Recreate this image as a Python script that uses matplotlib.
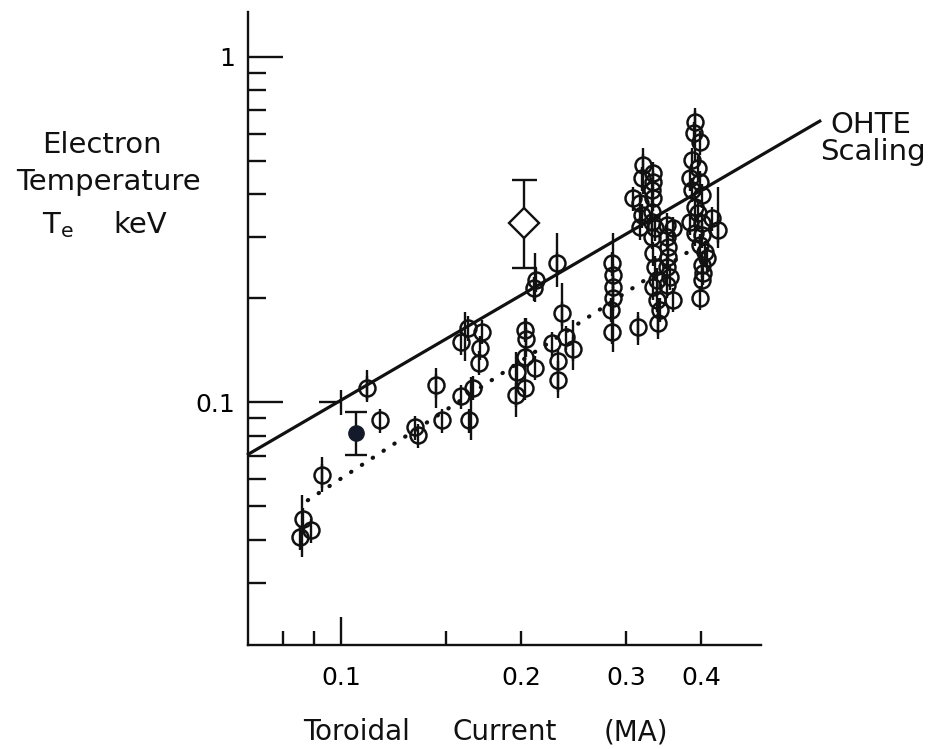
"""
Electron temperature vs toroidal current, log-log, with OHTE scaling line.
"""

import matplotlib

matplotlib.use("Agg")
import matplotlib.pyplot as plt
from matplotlib.ticker import FixedLocator, FixedFormatter
import numpy as np


# open circles: toroidal current (MA) and electron temperature (keV)
circ_x = [
    0.0854, 0.0864, 0.0891, 0.0929, 0.1105, 0.1162, 0.133, 0.1345, 0.144, 0.1475,
    0.159, 0.166, 0.164, 0.163, 0.172, 0.159, 0.171, 0.170,
    0.196, 0.203, 0.197, 0.211, 0.203, 0.204, 0.203, 0.210, 0.212,
    0.230, 0.234, 0.238, 0.225, 0.244, 0.231, 0.231,
    0.284, 0.285, 0.285, 0.285, 0.283, 0.284, 0.314,
    0.320, 0.332, 0.319, 0.332, 0.331, 0.332, 0.308, 0.316, 0.331, 0.319,
    0.331, 0.316, 0.335, 0.351, 0.359, 0.331, 0.351, 0.352, 0.332, 0.352,
    0.335, 0.351, 0.338, 0.332, 0.355, 0.351, 0.338, 0.359, 0.342, 0.339,
    0.391, 0.389, 0.398, 0.386, 0.395, 0.383, 0.398, 0.386, 0.402, 0.391,
    0.395, 0.383, 0.402, 0.417, 0.427, 0.391, 0.402, 0.398, 0.406, 0.409,
    0.402, 0.403, 0.402, 0.398,
]
circ_y = [
    0.0406, 0.0458, 0.0426, 0.0614, 0.110, 0.0887, 0.0846, 0.0802, 0.112, 0.0887,
    0.104, 0.110, 0.0887, 0.164, 0.160, 0.149, 0.144, 0.130,
    0.105, 0.110, 0.122, 0.126, 0.135, 0.152, 0.162, 0.214, 0.226,
    0.253, 0.181, 0.154, 0.148, 0.143, 0.132, 0.116,
    0.253, 0.233, 0.215, 0.200, 0.185, 0.160, 0.165,
    0.486, 0.461, 0.446, 0.434, 0.412, 0.390, 0.390, 0.377, 0.355, 0.348,
    0.332, 0.321, 0.319, 0.326, 0.319, 0.301, 0.301, 0.281, 0.270, 0.263,
    0.246, 0.246, 0.226, 0.215, 0.230, 0.218, 0.198, 0.198, 0.185, 0.170,
    0.648, 0.602, 0.567, 0.503, 0.477, 0.446, 0.434, 0.412, 0.398, 0.367,
    0.353, 0.332, 0.330, 0.341, 0.315, 0.309, 0.305, 0.285, 0.272, 0.261,
    0.249, 0.237, 0.226, 0.201,
]
circ_err = 0.08  # short bar through every circle (fraction)

# longer error bars
bar_x = [0.0860, 0.0929, 0.1105, 0.144, 0.165, 0.161, 0.196, 0.204, 0.211, 0.230,
         0.234, 0.244, 0.231, 0.285, 0.314, 0.320, 0.339, 0.391, 0.427]
bar_lo = [0.0355, 0.0548, 0.100, 0.0961, 0.0776, 0.132, 0.0905, 0.135, 0.195, 0.215,
          0.160, 0.124, 0.103, 0.140, 0.146, 0.40, 0.152, 0.50, 0.280]
bar_hi = [0.0537, 0.0693, 0.124, 0.126, 0.118, 0.182, 0.140, 0.175, 0.270, 0.309,
          0.221, 0.173, 0.132, 0.309, 0.182, 0.545, 0.20, 0.711, 0.420]

# filled point and diamond, both with capped bars
filled_x, filled_y, filled_lo, filled_hi = 0.106, 0.0813, 0.0702, 0.0935
diam_x, diam_y, diam_lo, diam_hi = 0.2023, 0.330, 0.245, 0.440

# OHTE scaling line and dotted trend
ohte_x = [0.07, 0.632]
ohte_y = [0.0707, 0.652]
dot_x = [0.088, 0.38]
dot_y = [0.052, 0.272]

INK = "#111111"
W, H = 940, 749


def ftext(fig, px, py, s, size, ha="center"):
    # place text by pixel position (baseline) in the 940x749 frame
    fig.text(px / W, 1 - py / H, s, ha=ha, va="baseline", fontsize=size, color=INK)


def main() -> None:
    plt.rcParams["font.family"] = ["DejaVu Sans"]
    fig = plt.figure(figsize=(W / 100, H / 100), dpi=100)
    ax = fig.add_axes([248 / W, 1 - 645 / H, (761 - 248) / W, (645 - 12) / H])
    ax.set_xscale("log")
    ax.set_yscale("log")
    ax.set_xlim(0.0699, 0.504)
    ax.set_ylim(0.0198, 1.35)

    for s in ("top", "right"):
        ax.spines[s].set_visible(False)
    for s in ("left", "bottom"):
        ax.spines[s].set_linewidth(1.7)
        ax.spines[s].set_color(INK)

    ax.xaxis.set_major_locator(FixedLocator([0.1]))
    ax.xaxis.set_major_formatter(FixedFormatter(["0.1"]))
    ax.xaxis.set_minor_locator(FixedLocator([0.08, 0.09, 0.15, 0.2, 0.3, 0.4]))
    ax.xaxis.set_minor_formatter(FixedFormatter(["", "", "", "0.2", "0.3", "0.4"]))
    ax.yaxis.set_major_locator(FixedLocator([0.1, 1.0]))
    ax.yaxis.set_major_formatter(FixedFormatter(["0.1", "1"]))
    ax.yaxis.set_minor_locator(FixedLocator([0.03, 0.04, 0.05, 0.06, 0.07, 0.08, 0.09,
                                             0.2, 0.3, 0.4, 0.5, 0.6, 0.7, 0.8, 0.9]))
    ax.yaxis.set_minor_formatter(FixedFormatter([""] * 15))

    ax.tick_params(axis="x", which="major", direction="in", length=20, width=1.7,
                   pad=15, labelsize=18, color=INK)
    ax.tick_params(axis="x", which="minor", direction="in", length=10, width=1.7,
                   pad=15, labelsize=18, color=INK)
    ax.tick_params(axis="y", which="major", direction="in", length=25, width=1.7,
                   pad=9, labelsize=18, color=INK)
    ax.tick_params(axis="y", which="minor", direction="in", length=13, width=1.7,
                   color=INK)

    # lines
    ax.plot(ohte_x, ohte_y, color=INK, lw=2.3, clip_on=False, zorder=2)
    ax.plot(dot_x, dot_y, color=INK, lw=3.0, linestyle=(0, (0.1, 3.0)),
            dash_capstyle="round", zorder=2)

    # open circles with short bars
    cx = np.array(circ_x)
    cy = np.array(circ_y)
    ax.errorbar(cx, cy, yerr=[cy * circ_err, cy * circ_err], fmt="o", ms=11.5,
                mfc="none", mec=INK, mew=1.8, ecolor=INK, elinewidth=1.7,
                capsize=0, zorder=3)
    ax.vlines(bar_x, bar_lo, bar_hi, color=INK, lw=1.7, zorder=3)

    # filled point
    ax.errorbar([filled_x], [filled_y],
                yerr=[[filled_y - filled_lo], [filled_hi - filled_y]],
                fmt="o", ms=11, mfc="#141a2a", mec="#141a2a", ecolor=INK,
                elinewidth=1.7, capsize=8, capthick=1.7, zorder=4)

    # diamond
    ax.errorbar([diam_x], [diam_y],
                yerr=[[diam_y - diam_lo], [diam_hi - diam_y]],
                fmt="D", ms=15, mfc="white", mec=INK, mew=1.7, ecolor=INK,
                elinewidth=1.7, capsize=9, capthick=1.7, zorder=4)

    # cross at the scaling anchor point
    ax.plot([0.1], [0.1], marker="|", ms=18, mew=1.7, color=INK, zorder=4)
    ax.plot([0.1], [0.1], marker=0, ms=16, mew=1.7, color=INK, zorder=4)

    # axis titles
    ftext(fig, 357, 740, "Toroidal", 20)
    ftext(fig, 505, 740, "Current", 20)
    ftext(fig, 636, 740, "(MA)", 20)
    ftext(fig, 102, 153, "Electron", 21)
    ftext(fig, 108, 190, "Temperature", 21)
    ftext(fig, 42, 233, r"T$_\mathrm{e}$", 21, ha="left")
    ftext(fig, 113, 233, "keV", 21, ha="left")
    ftext(fig, 871, 133, "OHTE", 21)
    ftext(fig, 873, 160, "Scaling", 21)

    fig.savefig("out.png", dpi=100)
    plt.close(fig)


if __name__ == "__main__":
    main()
